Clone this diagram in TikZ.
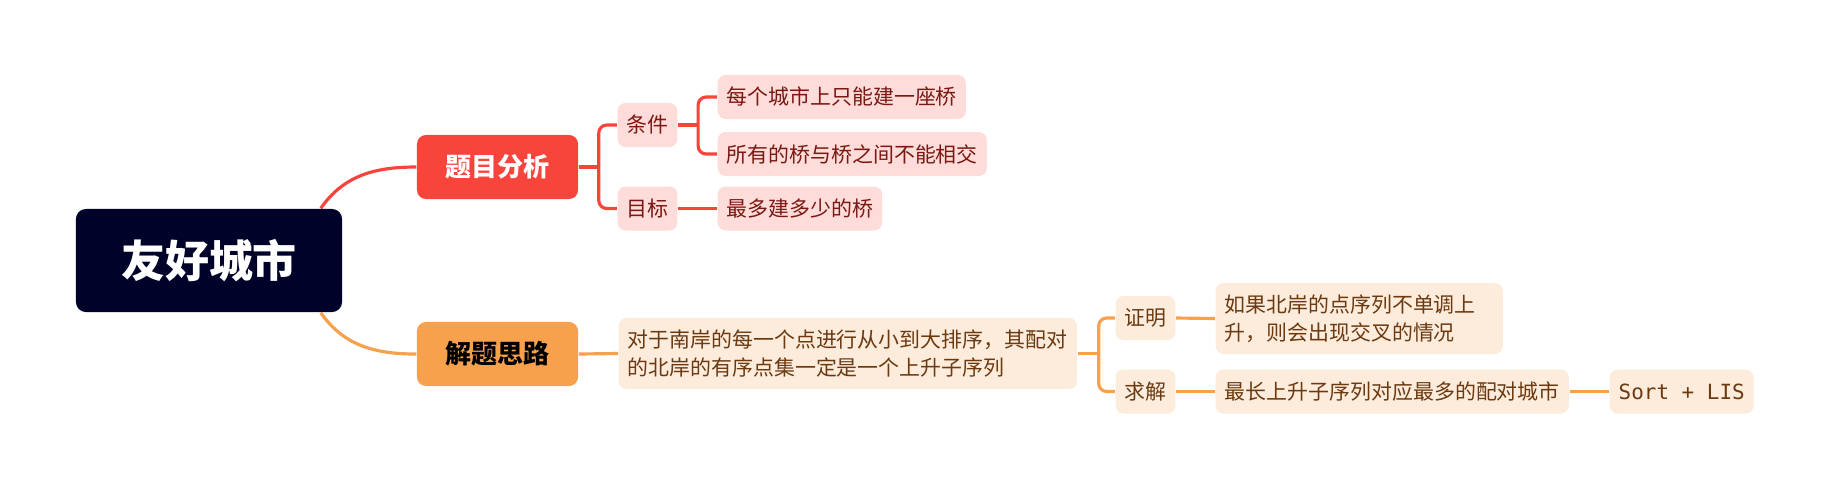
\documentclass[tikz,border=0pt]{standalone}
\usepackage{fontspec}
\setmainfont{Noto Sans CJK SC}
\newfontfamily\codefont{DejaVu Sans Mono}
\usetikzlibrary{calc,backgrounds}
\definecolor{rootblue}{HTML}{00022A}
\definecolor{redmain}{HTML}{F8453C}
\definecolor{orangemain}{HTML}{F7A14C}
\definecolor{pinkbox}{HTML}{FDDCDA}
\definecolor{redtext}{HTML}{7B1812}
\definecolor{peachbox}{HTML}{FDEBDC}
\definecolor{browntext}{HTML}{6B3A10}
\tikzset{
	rootbox/.style={fill=rootblue, text=white, rounded corners=0.1cm, minimum width=2.66cm, minimum height=1.03cm, font=\fontsize{12.5}{15}\selectfont\bfseries},
	mainbox/.style={rounded corners=0.09cm, minimum width=1.61cm, minimum height=0.64cm, font=\fontsize{7.4}{9}\selectfont\bfseries},
	redbox/.style={fill=pinkbox, text=redtext, rounded corners=0.08cm, minimum height=0.44cm, inner xsep=0.09cm, inner ysep=0pt, font=\fontsize{5.95}{8}\selectfont},
	orangebox/.style={fill=peachbox, text=browntext, rounded corners=0.08cm, minimum height=0.44cm, inner xsep=0.09cm, inner ysep=0pt, font=\fontsize{5.95}{8}\selectfont},
	redline/.style={draw=redmain, line width=0.9pt},
	orangeline/.style={draw=orangemain, line width=0.9pt},
}

\begin{document}
\begin{tikzpicture}[x=0.01cm, y=-0.01cm]
			%%%%% START %%%%%
			\useasboundingbox (0, 0) rectangle (1828, 487);
			
			\node[rootbox] (root) at (209, 260.5) {友好城市};
			\node[mainbox, fill=redmain, text=white] (fx) at (497.5, 167) {题目分析};
			\node[mainbox, fill=orangemain, text=black] (jt) at (497.5, 354) {解题思路};
			
			\node[redbox, minimum width=0.59cm] (tj) at (647.5, 125) {条件};
			\node[redbox, minimum width=0.59cm] (mb) at (647.5, 208.5) {目标};
			\node[redbox, anchor=west] (c1) at (717, 97) {每个城市上只能建一座桥};
			\node[redbox, anchor=west] (c2) at (717, 154) {所有的桥与桥之间不能相交};
			\node[redbox, anchor=west] (m1) at (717, 208.5) {最多建多少的桥};
			
			\node[orangebox, anchor=west, text width=4.4cm, minimum height=0.71cm, align=left] (sl) at (618, 353.5) {对于南岸的每一个点进行从小到大排序，其配对\\的北岸的有序点集一定是一个上升子序列};
			\node[orangebox, minimum width=0.57cm] (zm) at (1145.5, 318) {证明};
			\node[orangebox, minimum width=0.57cm] (qj) at (1145.5, 391.5) {求解};
			\node[orangebox, anchor=west, text width=2.69cm, minimum height=0.71cm, align=left] (zm1) at (1215, 318.5) {如果北岸的点序列不单调上\\升，则会出现交叉的情况};
			\node[orangebox, anchor=west, minimum width=3.53cm] (qj1) at (1215, 391.5) {最长上升子序列对应最多的配对城市};
			\node[orangebox, anchor=west, font=\fontsize{5.95}{8}\selectfont\codefont] (lis) at (1609, 391.5) {Sort + LIS};
			
			\begin{scope}[on background layer]
			\draw[redline] ([xshift=-0.22cm]root.north east) to[out=55, in=180] (fx.west);
			\draw[orangeline] ([xshift=-0.22cm]root.south east) to[out=-55, in=180] (jt.west);
			
			\coordinate (fxb) at ([xshift=0.2cm]fx.east);
			\draw[redline] (fx.east) -- (fxb);
			\draw[redline, rounded corners=0.08cm] (tj.west) -- (tj.west -| fxb) -- (mb.west -| fxb) -- (mb.west);
			\coordinate (tjb) at ([xshift=0.2cm]tj.east);
			\draw[redline] (tj.east) -- (tjb);
			\draw[redline, rounded corners=0.08cm] (c1.west) -- (c1.west -| tjb) -- (c2.west -| tjb) -- (c2.west);
			\draw[redline] (mb.east) -- (m1.west);
			
			\draw[orangeline] (jt.east) -- (sl.west);
			\coordinate (slb) at ([xshift=0.21cm]sl.east);
			\draw[orangeline] (sl.east) -- (slb);
			\draw[orangeline, rounded corners=0.08cm] (zm.west) -- (zm.west -| slb) -- (qj.west -| slb) -- (qj.west);
			\draw[orangeline] (zm.east) -- (zm1.west);
			\draw[orangeline] (qj.east) -- (qj1.west);
			\draw[orangeline] (qj1.east) -- (lis.west);
			\end{scope}
			%%%%% END %%%%%
\end{tikzpicture}
\end{document}
